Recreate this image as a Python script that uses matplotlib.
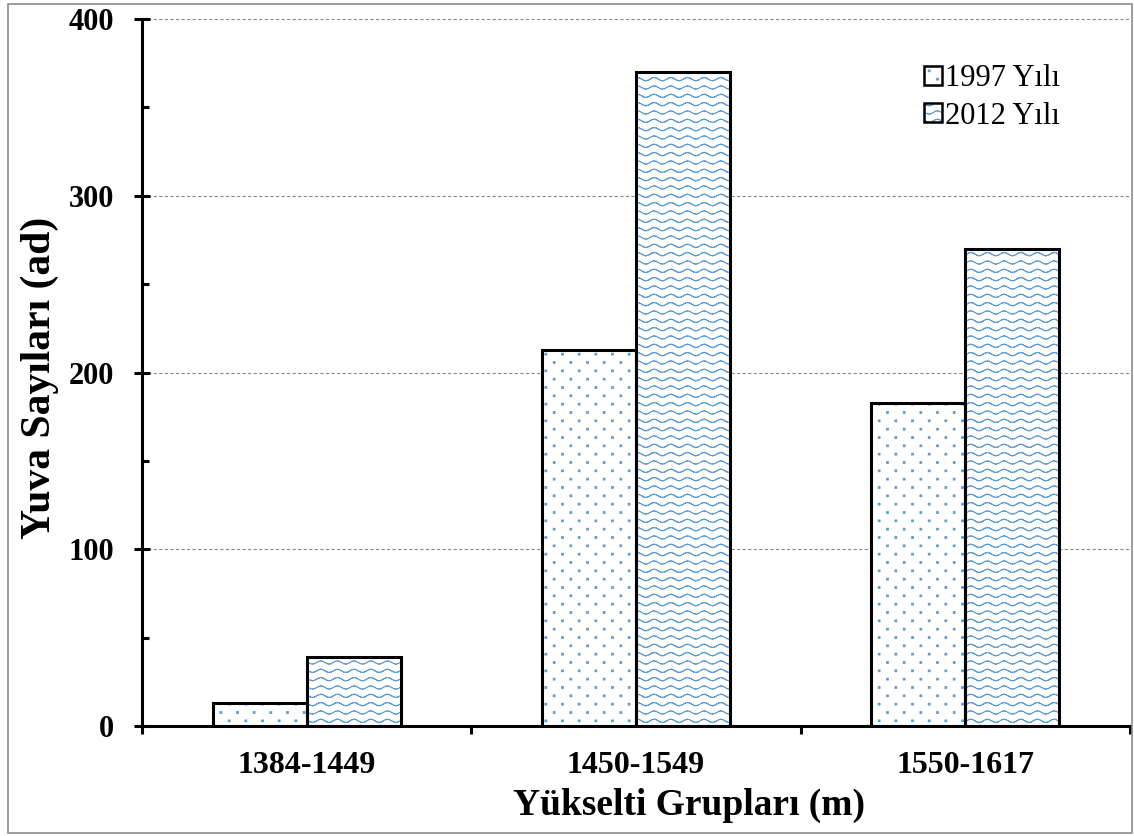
import numpy as np
import matplotlib
matplotlib.use("Agg")
import matplotlib.pyplot as plt
import matplotlib.hatch as mhatch
from matplotlib.path import Path
from matplotlib.patches import Patch, Rectangle
from matplotlib.legend_handler import HandlerTuple
from matplotlib.ticker import MultipleLocator, FixedLocator, NullFormatter

groups = ["1384-1449", "1450-1549", "1550-1617"]
years = ["1997 Yılı", "2012 Yılı"]
nests_1997 = [13, 213, 183]
nests_2012 = [39, 370, 270]

BLUE = "#5B9BD5"


# wave pattern for the 2012 bars (takes the place of the '*' hatch)
class WaveHatch(mhatch.HatchPatternBase):
    def __init__(self, hatch, density):
        self.num_rows = hatch.count('*') * density
        self.nseg = 48
        self.num_vertices = self.num_rows * self.nseg * 2

    def set_vertices_and_codes(self, vertices, codes):
        xs = np.linspace(0, 1, self.nseg + 1)
        k = 0
        for r in range(self.num_rows):
            y0 = (r + 0.5) / self.num_rows
            ys = y0 + 0.016 * np.sin(2 * np.pi * 6 * xs)
            for i in range(self.nseg):
                vertices[k] = xs[i], ys[i]
                vertices[k + 1] = xs[i + 1], ys[i + 1]
                codes[k] = Path.MOVETO
                codes[k + 1] = Path.LINETO
                k += 2


# sparse staggered dots for the 1997 bars (takes the place of 'O')
class DotHatch(mhatch.HatchPatternBase):
    def __init__(self, hatch, density):
        n = hatch.count('O')
        self.ncols = 6 * n
        self.nrows = 12 * n
        self.num_vertices = self.ncols * self.nrows * 5

    def set_vertices_and_codes(self, vertices, codes):
        s = 0.008
        k = 0
        for r in range(self.nrows):
            y = (r + 0.5) / self.nrows
            shift = 0.5 if r % 2 else 0.0
            for c in range(self.ncols):
                x = (c + 0.25 + shift) / self.ncols
                vertices[k:k + 5] = [(x - s, y - s), (x + s, y - s),
                                     (x + s, y + s), (x - s, y + s), (x - s, y - s)]
                codes[k:k + 5] = [Path.MOVETO, Path.LINETO, Path.LINETO,
                                  Path.LINETO, Path.CLOSEPOLY]
                k += 5


mhatch._hatch_types[mhatch._hatch_types.index(mhatch.Stars)] = WaveHatch
mhatch._hatch_types[mhatch._hatch_types.index(mhatch.LargeCircles)] = DotHatch

plt.rcParams['font.family'] = ['Liberation Serif', 'DejaVu Serif']
plt.rcParams['hatch.linewidth'] = 0.8

fig = plt.figure(figsize=(11.34, 8.36), dpi=100)
ax = fig.add_axes([142 / 1134, 1 - 726 / 836, 988 / 1134, 707 / 836])

# grey frame round the whole chart
fig.patches.append(Rectangle((8 / 1134, 3 / 836), 1124 / 1134, 829 / 836,
                             transform=fig.transFigure, fill=False,
                             edgecolor="#8c8c8c", linewidth=1.2))

x = np.arange(len(groups))
w = 0.285
hatches = ['O', '**']
handles = []
for i, vals in enumerate([nests_1997, nests_2012]):
    pos = x + (i - 0.5) * w
    ax.bar(pos, vals, w, color="white", edgecolor=BLUE, linewidth=0,
           hatch=hatches[i], zorder=2)
    ax.bar(pos, vals, w, fill=False, edgecolor="black", linewidth=2.2, zorder=3)
    handles.append((Patch(facecolor="white", edgecolor=BLUE, linewidth=0, hatch=hatches[i]),
                    Patch(fill=False, edgecolor="black", linewidth=1.8)))

ax.set_xlim(-0.5, 2.5)
ax.set_ylim(0, 400)
ax.yaxis.set_major_locator(MultipleLocator(100))
ax.yaxis.set_minor_locator(MultipleLocator(50))
ax.grid(axis='y', which='major', linestyle=(0, (3, 2)), color="#8a8a8a", linewidth=0.8, zorder=0)
ax.set_axisbelow(True)

ax.xaxis.set_major_locator(FixedLocator([-0.5, 0.5, 1.5, 2.5]))
ax.xaxis.set_major_formatter(NullFormatter())
ax.xaxis.set_minor_locator(FixedLocator(x))
ax.set_xticks(x, groups, minor=True)

for sp in ['top', 'right']:
    ax.spines[sp].set_visible(False)
for sp in ['left', 'bottom']:
    ax.spines[sp].set_linewidth(2.2)

ax.tick_params(axis='y', which='major', direction='inout', length=12, width=2.2,
               labelsize=22, pad=14)
ax.tick_params(axis='y', which='minor', direction='in', length=5, width=2.2)
ax.tick_params(axis='x', which='major', direction='out', length=6, width=2.2)
ax.tick_params(axis='x', which='minor', length=0, labelsize=23, pad=18)
for lab in ax.get_yticklabels() + ax.get_xticklabels(minor=True):
    lab.set_fontweight('bold')

ax.set_xlabel("Yükselti Grupları (m)", fontsize=27, fontweight='bold')
ax.set_ylabel("Yuva Sayıları (ad)", fontsize=30, fontweight='bold')
ax.xaxis.set_label_coords(0.554, -0.112)
ax.xaxis.label.set_va('center')
ax.yaxis.set_label_coords(-0.103, 0.493)
ax.yaxis.label.set_va('center')

ax.legend(handles, years, handler_map={tuple: HandlerTuple(ndivide=1)},
          loc='upper right', bbox_to_anchor=(1060 / 1134, 1 - 64 / 836),
          bbox_transform=fig.transFigure, frameon=False, fontsize=22,
          handlelength=0.6, handleheight=0.6, handletextpad=0.1,
          labelspacing=0.28, borderpad=0, borderaxespad=0)

fig.savefig("out.png", dpi=100)
